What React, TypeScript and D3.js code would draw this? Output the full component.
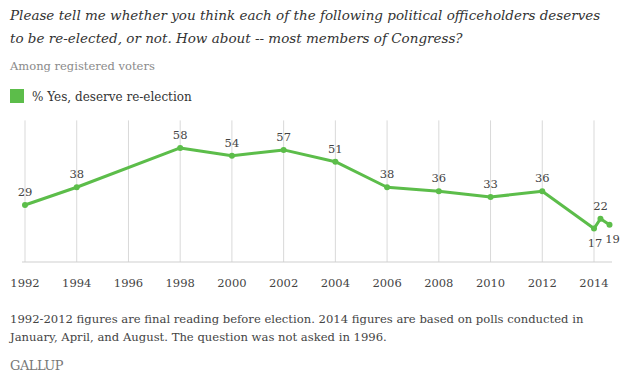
import React from "react";
import * as d3 from "d3";

const electionYears = [1992, 1994, 1998, 2000, 2002, 2004, 2006, 2008, 2010, 2012];
const electionValues = [29, 38, 58, 54, 57, 51, 38, 36, 33, 36];
const poll2014Dates = [2014.0, 2014.25, 2014.6];
const poll2014Values = [17, 22, 19];
const tickYears = [1992, 1994, 1996, 1998, 2000, 2002, 2004, 2006, 2008, 2010, 2012, 2014];

const titleLines = [
  "Please tell me whether you think each of the following political officeholders deserves",
  "to be re-elected, or not. How about -- most members of Congress?",
];
const subtitle = "Among registered voters";
const legendLabel = "% Yes, deserve re-election";
const footLines = [
  "1992-2012 figures are final reading before election. 2014 figures are based on polls conducted in",
  "January, April, and August. The question was not asked in 1996.",
];

const GREEN = "#5cbd4a";
const SERIF = "'DejaVu Serif', serif";

export default function App() {
  const x = d3.scaleLinear().domain([1992, 2014]).range([25, 594]);
  const y = d3.scaleLinear().domain([0, 72]).range([262, 120.4]);

  const points = [
    ...electionYears.map((yr, i) => ({ t: yr, v: electionValues[i], pos: "above" })),
    ...poll2014Dates.map((t, i) => ({ t, v: poll2014Values[i], pos: ["below", "above", "belowRight"][i] })),
  ];

  const line = d3
    .line<{ t: number; v: number }>()
    .x((d) => x(d.t))
    .y((d) => y(d.v));

  const labelPos = (p: { t: number; v: number; pos: string }) => {
    const px = x(p.t);
    const py = y(p.v);
    if (p.pos === "below") return { lx: px + 1, ly: py + 14 };
    if (p.pos === "belowRight") return { lx: px + 3, ly: py + 14 };
    return { lx: px, ly: py - 13 };
  };

  return (
    <svg width={620} height={384} style={{ display: "block", position: "absolute", left: 0, top: 0, background: "#fff" }}>
      <g fontFamily={SERIF} fontStyle="italic" fontSize={13.5} fill="#333">
        {titleLines.map((t, i) => (
          <text key={i} x={10} y={20 + i * 23}>{t}</text>
        ))}
      </g>
      <text x={10} y={70} fontFamily={SERIF} fontSize={11.5} fill="#8a8a8a">{subtitle}</text>
      <rect x={10} y={89} width={14} height={14} fill={GREEN} />
      <text x={32} y={101} fontFamily={SERIF} fontSize={12} fill="#333">{legendLabel}</text>

      {tickYears.map((yr) => (
        <line key={yr} x1={x(yr)} x2={x(yr)} y1={y(72)} y2={y(0)} stroke="#d9d9d9" strokeWidth={1} />
      ))}
      <line x1={22} x2={612} y1={y(0)} y2={y(0)} stroke="#cfcfcf" strokeWidth={1} />
      {tickYears.map((yr) => (
        <text key={yr} x={x(yr)} y={283} dy="0.35em" textAnchor="middle" fontFamily={SERIF} fontSize={11.5} fill="#444">{yr}</text>
      ))}

      <path d={line(points) || ""} fill="none" stroke={GREEN} strokeWidth={3} strokeLinejoin="round" />
      {points.map((p, i) => (
        <circle key={i} cx={x(p.t)} cy={y(p.v)} r={3} fill={GREEN} />
      ))}
      {points.map((p, i) => {
        const { lx, ly } = labelPos(p);
        return (
          <text key={i} x={lx} y={ly} dy="0.35em" textAnchor="middle" fontFamily={SERIF} fontSize={11.5} fill="#444">{p.v}</text>
        );
      })}

      <g fontFamily={SERIF} fontSize={11.6} fill="#444">
        {footLines.map((t, i) => (
          <text key={i} x={10} y={323 + i * 18}>{t}</text>
        ))}
      </g>
      <text x={10} y={370} fontFamily={SERIF} fontSize={13} fill="#777" letterSpacing={-0.5}>GALLUP</text>
    </svg>
  );
}
